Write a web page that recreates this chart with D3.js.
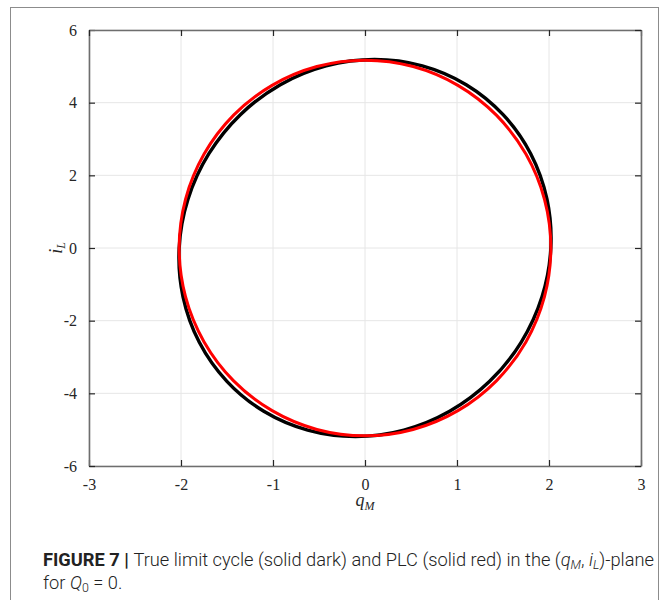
<!DOCTYPE html>
<html><head><meta charset="utf-8">
<script src="https://cdn.jsdelivr.net/npm/d3@7"></script>
<style>body{margin:0;background:#fff}svg{display:block}</style>
</head><body>
<svg id="c" width="670" height="600"></svg>
<script>
// ---- data ----
const xTicks = [-3, -2, -1, 0, 1, 2, 3];
const yTicks = [-6, -4, -2, 0, 2, 4, 6];
// true limit cycle (solid dark): [q_M, i_L]
const trueCycle = [
  [2.02, 0], [1.978, 1.343], [1.801, 2.595], [1.501, 3.670], [1.100, 4.495], [0.623, 5.013],
  [0.104, 5.19], [-0.423, 5.013], [-0.920, 4.495], [-1.355, 3.670], [-1.697, 2.595], [-1.924, 1.343],
  [-2.02, 0], [-1.978, -1.343], [-1.801, -2.595], [-1.501, -3.670], [-1.100, -4.495], [-0.623, -5.013],
  [-0.104, -5.19], [0.423, -5.013], [0.920, -4.495], [1.355, -3.670], [1.697, -2.595], [1.924, -1.343]
];
// PLC (solid red): [q_M, i_L]
const plcCycle = [
  [2.02, 0], [1.951, 1.338], [1.749, 2.585], [1.428, 3.656], [1.010, 4.477], [0.523, 4.994],
  [0, 5.17], [-0.523, 4.994], [-1.010, 4.477], [-1.428, 3.656], [-1.749, 2.585], [-1.951, 1.338],
  [-2.02, 0], [-1.951, -1.338], [-1.749, -2.585], [-1.428, -3.656], [-1.010, -4.477], [-0.523, -4.994],
  [0, -5.17], [0.523, -4.994], [1.010, -4.477], [1.428, -3.656], [1.749, -2.585], [1.951, -1.338]
];

// ---- drawing ----
const svg = d3.select("#c");
const X0 = 89, X1 = 641, Y0 = 466, Y1 = 30;
const x = d3.scaleLinear().domain([-3, 3]).range([X0, X1]);
const y = d3.scaleLinear().domain([-6, 6]).range([Y0, Y1]);

// outer frame
svg.append("rect").attr("x", 10.5).attr("y", 7.5).attr("width", 648).attr("height", 640)
  .attr("fill", "none").attr("stroke", "#8c8c8c").attr("stroke-width", 1);

// grid
const g = svg.append("g");
g.selectAll(".gx").data(xTicks).join("line")
  .attr("x1", d => x(d)).attr("x2", d => x(d)).attr("y1", Y1).attr("y2", Y0)
  .attr("stroke", "#e6e6e6").attr("stroke-width", 1);
g.selectAll(".gy").data(yTicks).join("line")
  .attr("y1", d => y(d)).attr("y2", d => y(d)).attr("x1", X0).attr("x2", X1)
  .attr("stroke", "#e6e6e6").attr("stroke-width", 1);

// curves
const line = d3.line().x(d => x(d[0])).y(d => y(d[1])).curve(d3.curveCardinalClosed.tension(0));
svg.append("path").attr("d", line(trueCycle)).attr("fill", "none")
  .attr("stroke", "#000").attr("stroke-width", 3.4);
svg.append("path").attr("d", line(plcCycle)).attr("fill", "none")
  .attr("stroke", "#ff0000").attr("stroke-width", 3);

// axes (box with inward ticks)
const serif = "'Liberation Serif', 'DejaVu Serif', serif";
const tickFmt = d => (d < 0 ? "-" + Math.abs(d) : String(d));
const axB = d3.axisBottom(x).tickValues(xTicks).tickSizeInner(-6).tickSizeOuter(0).tickPadding(13).tickFormat(tickFmt);
const axL = d3.axisLeft(y).tickValues(yTicks).tickSizeInner(-6).tickSizeOuter(0).tickPadding(12).tickFormat(tickFmt);
const axT = d3.axisTop(x).tickValues(xTicks).tickSizeInner(-6).tickSizeOuter(0).tickFormat("");
const axR = d3.axisRight(y).tickValues(yTicks).tickSizeInner(-6).tickSizeOuter(0).tickFormat("");
function style(sel) {
  sel.select(".domain").attr("stroke", "#6e6e6e").attr("stroke-width", 1.6);
  sel.selectAll(".tick line").attr("stroke", "#262626").attr("stroke-width", 1.2);
  sel.selectAll(".tick text").attr("font-family", serif)
    .attr("font-size", 16).attr("fill", "#262626");
}
svg.append("g").attr("transform", `translate(0,${Y0})`).call(axB).call(style);
svg.append("g").attr("transform", `translate(${X0},0)`).call(axL).call(style);
svg.append("g").attr("transform", `translate(0,${Y1})`).call(axT).call(style);
svg.append("g").attr("transform", `translate(${X1},0)`).call(axR).call(style);

// axis labels
const xl = svg.append("text").attr("x", x(0)).attr("y", 506).attr("text-anchor", "middle")
  .attr("font-family", serif).attr("font-size", 18).attr("fill", "#262626");
xl.append("tspan").attr("font-style", "italic").text("q");
xl.append("tspan").attr("font-style", "italic").attr("font-size", 12).attr("dy", 4).text("M");

const yl = svg.append("text").attr("transform", `translate(62,${y(0)}) rotate(-90)`)
  .attr("text-anchor", "middle").attr("font-family", serif).attr("font-size", 18).attr("fill", "#262626");
yl.append("tspan").attr("font-style", "italic").text("i");
yl.append("tspan").attr("font-style", "italic").attr("font-size", 12).attr("dy", 3).text("L");

// caption
const sans = "Roboto, 'Noto Sans', sans-serif";
const c1 = svg.append("text").attr("x", 43).attr("y", 566).attr("font-family", sans)
  .attr("font-size", 17).attr("fill", "#222");
c1.append("tspan").attr("font-weight", 700).text("FIGURE 7 | ");
c1.append("tspan").attr("font-weight", 300).text("True limit cycle (solid dark) and PLC (solid red) in the (");
c1.append("tspan").attr("font-weight", 300).attr("font-style", "italic").text("q");
c1.append("tspan").attr("font-weight", 300).attr("font-style", "italic").attr("font-size", "0.68em").attr("dy", 3).text("M");
c1.append("tspan").attr("font-weight", 300).attr("dy", -3).text(", ");
c1.append("tspan").attr("font-weight", 300).attr("font-style", "italic").text("i");
c1.append("tspan").attr("font-weight", 300).attr("font-style", "italic").attr("font-size", "0.68em").attr("dy", 3).text("L");
c1.append("tspan").attr("font-weight", 300).attr("dy", -3).text(")-plane");

// fit first caption line to the width used in the reference
const targetW = 611;
const w = c1.node().getComputedTextLength();
const fs = 17 * targetW / w;
c1.attr("font-size", fs);

const c2 = svg.append("text").attr("x", 43).attr("y", 589).attr("font-family", sans)
  .attr("font-size", fs).attr("fill", "#222").attr("font-weight", 300);
c2.append("tspan").text("for ");
c2.append("tspan").attr("font-style", "italic").text("Q");
c2.append("tspan").attr("font-size", "0.68em").attr("dy", 3).text("0");
c2.append("tspan").attr("dy", -3).text(" = 0.");
</script>
</body></html>
